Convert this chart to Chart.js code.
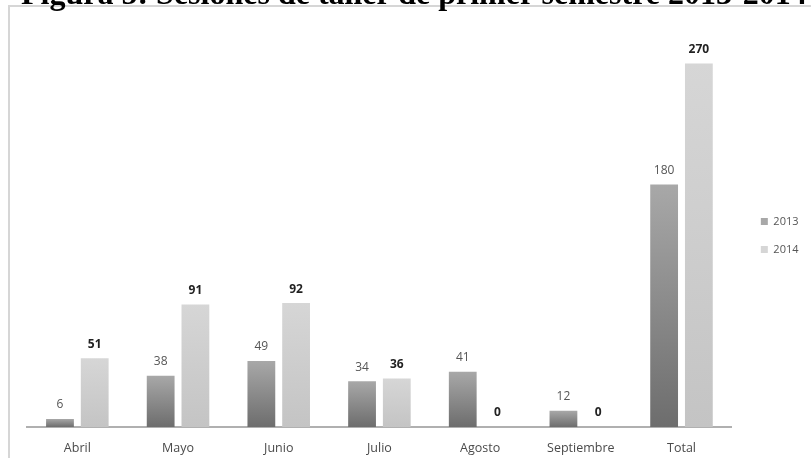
<!DOCTYPE html>
<html>
<head>
  <script src="https://cdn.jsdelivr.net/npm/chart.js"></script>
  <title>Sesiones de taller</title>
  <style>
    html, body { margin: 0; padding: 0; background: #fff; overflow: hidden; }
    body { width: 811px; height: 458px; position: relative; }
    #frame { position: absolute; left: 8px; top: 5px; width: 900px; height: 500px;
             border-left: 2px solid #d6d6d6; border-top: 2px solid #d6d6d6; }
    #titulo { position: absolute; left: 21px; top: -23px; white-space: nowrap;
              font: bold 32px "Liberation Serif", "Times New Roman", serif; line-height: 32px; color: #000; }
    #box { position: absolute; left: 0; top: 0; width: 811px; height: 458px; }
  </style>
</head>
<body>
  <div id="frame"></div>
  <div id="box"><canvas id="sesionesChart" width="811" height="458"></canvas></div>
  <div id="titulo">Figura 5: Sesiones de taller de primer semestre 2013-2014</div>

  <script>
    // data
    const meses = ['Abril', 'Mayo', 'Junio', 'Julio', 'Agosto', 'Septiembre', 'Total'];
    const sesiones2013 = [6, 38, 49, 34, 41, 12, 180];
    const sesiones2014 = [51, 91, 92, 36, 0, 0, 270];

    // vertical gray gradient per bar, built from the y scale
    function barFill(top, bottom, solid) {
      return function(ctx) {
        if (ctx.type !== 'data') return solid;
        const y = ctx.chart.scales.y;
        if (!y) return solid;
        const y0 = y.getPixelForValue(ctx.parsed.y);
        const y1 = y.getPixelForValue(0);
        if (!isFinite(y0) || y1 - y0 < 1) return solid;
        const g = ctx.chart.ctx.createLinearGradient(0, y0, 0, y1);
        g.addColorStop(0, top);
        g.addColorStop(1, bottom);
        return g;
      };
    }

    // value labels above each bar
    const valueLabels = {
      id: 'valueLabels',
      afterDatasetsDraw(chart) {
        const c = chart.ctx;
        chart.data.datasets.forEach((ds, i) => {
          const meta = chart.getDatasetMeta(i);
          c.save();
          c.font = (i === 1 ? 'bold ' : '') + '12px "Open Sans", sans-serif';
          c.fillStyle = i === 1 ? '#222' : '#555';
          c.textAlign = 'center';
          c.textBaseline = 'middle';
          meta.data.forEach((bar, j) => {
            c.fillText(String(ds.data[j]), bar.x, bar.y - 14);
          });
          c.restore();
        });
      }
    };

    // nudge the legend into place
    const legendShift = {
      id: 'legendShift',
      afterLayout(chart) {
        const lg = chart.legend;
        if (!lg) return;
        lg.left += 12; lg.right += 12;
        lg.top -= 5; lg.bottom -= 5;
      }
    };

    const ctx = document.getElementById('sesionesChart').getContext('2d');
    const chart = new Chart(ctx, {
      type: 'bar',
      data: {
        labels: meses,
        datasets: [{
          label: '2013',
          data: sesiones2013,
          backgroundColor: barFill('#a8a8a8', '#6d6d6d', '#888888'),
          categoryPercentage: 0.69,
          barPercentage: 0.8
        }, {
          label: '2014',
          data: sesiones2014,
          backgroundColor: barFill('#d6d6d6', '#c4c4c4', '#cccccc'),
          categoryPercentage: 0.69,
          barPercentage: 0.8
        }]
      },
      options: {
        responsive: false,
        animation: false,
        layout: { padding: { left: 27, top: 23, right: 14.5, bottom: 0 } },
        plugins: {
          legend: {
            position: 'right',
            labels: {
              boxWidth: 7, boxHeight: 7, padding: 17,
              color: '#555',
              font: { size: 11, family: '"Open Sans", sans-serif' }
            }
          },
          tooltip: { enabled: false }
        },
        scales: {
          x: {
            grid: { display: false },
            border: { display: true, color: '#b0b0b0', width: 2 },
            ticks: { color: '#4a4a4a', padding: 6, font: { size: 12.5, family: '"Open Sans", sans-serif' } },
            afterFit: s => { s.height = 31; }
          },
          y: {
            display: false,
            min: 0,
            max: 300
          }
        }
      },
      plugins: [valueLabels, legendShift]
    });
  </script>
</body>
</html>
